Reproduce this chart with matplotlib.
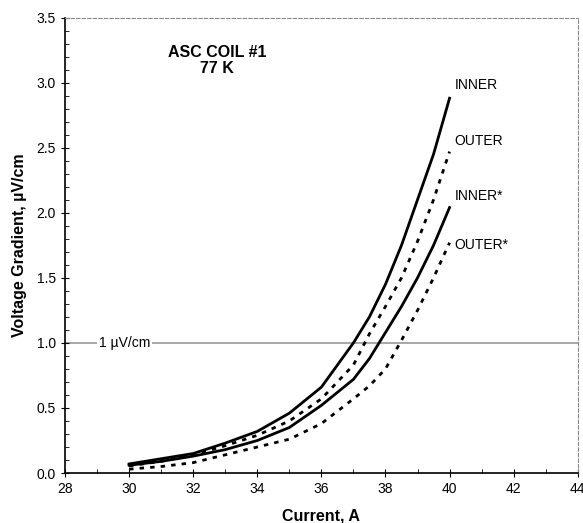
import numpy as np
import matplotlib
matplotlib.use("Agg")
import matplotlib.pyplot as plt
from matplotlib.ticker import MultipleLocator

plt.rcParams['font.family'] = ['Liberation Sans', 'DejaVu Sans']

# data (current in A, voltage gradient in uV/cm)
current = [30, 31, 32, 33, 34, 35, 36, 37, 37.5, 38, 38.5, 39, 39.5, 40]
inner = [0.07, 0.11, 0.15, 0.23, 0.32, 0.46, 0.66, 1.00, 1.20, 1.45, 1.75, 2.10, 2.45, 2.88]
outer = [0.055, 0.09, 0.14, 0.21, 0.29, 0.40, 0.57, 0.83, 1.07, 1.28, 1.50, 1.78, 2.10, 2.47]
inner_s = [0.06, 0.09, 0.13, 0.18, 0.25, 0.35, 0.52, 0.72, 0.88, 1.08, 1.28, 1.50, 1.75, 2.04]
outer_s = [0.03, 0.05, 0.08, 0.14, 0.20, 0.26, 0.38, 0.57, 0.67, 0.80, 1.02, 1.25, 1.50, 1.77]

series = [
    ("INNER", inner, "-", 2.98),
    ("OUTER", outer, (0, (1.6, 2.2)), 2.55),
    ("INNER*", inner_s, "-", 2.13),
    ("OUTER*", outer_s, (0, (1.6, 2.2)), 1.75),
]

fig = plt.figure(figsize=(5.83, 5.23), dpi=100)
ax = fig.add_axes([0.1115, 0.0955, 0.8795, 0.871])

# 1 uV/cm criterion line
ax.axhline(1.0, color="#9a9a9a", lw=1.2, zorder=1)
ax.text(29.86, 1.0, "1 \u00b5V/cm", ha="center", va="center", fontsize=10,
        bbox=dict(facecolor="white", edgecolor="none", pad=1.5), zorder=2)

for name, vals, ls, ylab in series:
    ax.plot(current, vals, color="black", lw=2.0, ls=ls, zorder=3)
    ax.text(40.15, ylab, name, fontsize=10, ha="left", va="center")

ax.text(32.74, 3.17, "ASC COIL #1\n77 K", fontsize=11.5, fontweight="bold",
        ha="center", va="center", linespacing=1.15)

ax.set_xlim(28, 44)
ax.set_ylim(0, 3.5)
ax.xaxis.set_major_locator(MultipleLocator(2))
ax.xaxis.set_minor_locator(MultipleLocator(1))
ax.yaxis.set_major_locator(MultipleLocator(0.5))
ax.yaxis.set_minor_locator(MultipleLocator(0.1))
ax.yaxis.set_major_formatter(matplotlib.ticker.FormatStrFormatter("%.1f"))
ax.tick_params(which="major", direction="inout", length=6, width=0.8, labelsize=10)
ax.tick_params(which="minor", direction="in", length=3, width=0.6)

for side in ("top", "right"):
    ax.spines[side].set_linestyle((0, (3, 2)))
    ax.spines[side].set_color("#888888")
    ax.spines[side].set_linewidth(0.8)
for side in ("left", "bottom"):
    ax.spines[side].set_linewidth(1.2)

ax.set_xlabel("Current, A", fontsize=11.5, fontweight="bold", labelpad=9)
ax.set_ylabel("Voltage Gradient, \u00b5V/cm", fontsize=11.5, fontweight="bold", labelpad=7)

fig.savefig("out.png", dpi=100)
